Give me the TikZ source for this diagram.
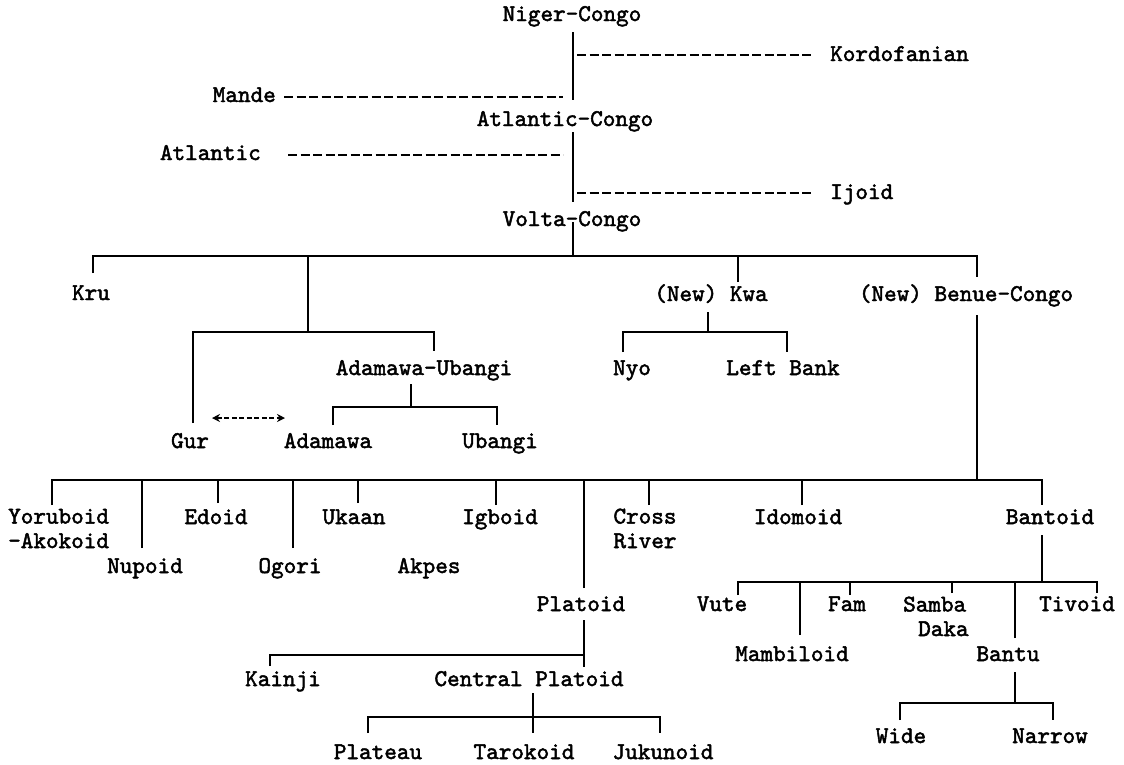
\documentclass[tikz,border=0pt]{standalone}
\usepackage{fontspec}
\newfontfamily\tw{lmmono10-regular}[Extension=.otf, FakeBold=2]
\usetikzlibrary{arrows.meta}
\begin{document}
\begin{tikzpicture}[x=1pt,y=-1pt,
  lbl/.style={font=\tw\fontsize{24}{24.5}\selectfont, inner sep=0pt, anchor=base},
  ln/.style={line width=1.7pt},
  dsh/.style={line width=1.6pt, dash pattern=on 9pt off 3.5pt},
  arr/.style={line width=1.5pt, dash pattern=on 5pt off 2.5pt, {Stealth[length=8pt,width=8pt]}-{Stealth[length=8pt,width=8pt]}}]
\useasboundingbox (0,0) rectangle (1124,764);

% ---- labels ----
\node[lbl] (nc) at (572,21) {Niger-Congo};
\node[lbl,anchor=base west] (kord) at (830,61) {Kordofanian};
\node[lbl,anchor=base east] (mande) at (276,102) {Mande};
\node[lbl] (ac) at (565,126) {Atlantic-Congo};
\node[lbl,anchor=base east] (atl) at (261,160) {Atlantic};
\node[lbl,anchor=base west] (ijoid) at (830,199) {Ijoid};
\node[lbl] (vc) at (572,226) {Volta-Congo};

\node[lbl] (kru) at (91,300) {Kru};
\node[lbl] (kwa) at (711,301) {(New) Kwa};
\node[lbl] (bc) at (966,301) {(New) Benue-Congo};

\node[lbl] (au) at (424,375) {Adamawa-Ubangi};
\node[lbl] (nyo) at (632,375) {Nyo};
\node[lbl] (lb) at (783,375) {Left Bank};

\node[lbl] (gur) at (190,448) {Gur};
\node[lbl] (adam) at (328,448) {Adamawa};
\node[lbl] (ubangi) at (500,448) {Ubangi};

\node[lbl,anchor=base west,align=left] (yor) at (8,548) {Yoruboid\\-Akokoid};
\node[lbl] (edo) at (216,524) {Edoid};
\node[lbl] (uka) at (354,524) {Ukaan};
\node[lbl] (igb) at (500,524) {Igboid};
\node[lbl,align=left] (cro) at (645,548) {Cross\\River};
\node[lbl] (ido) at (798,524) {Idomoid};
\node[lbl] (ban) at (1050,524) {Bantoid};

\node[lbl] (nup) at (145,573) {Nupoid};
\node[lbl] (ogo) at (290,573) {Ogori};
\node[lbl] (akp) at (429,573) {Akpes};

\node[lbl] (pla) at (581,611) {Platoid};
\node[lbl] (vute) at (722,611) {Vute};
\node[lbl] (fam) at (847,611) {Fam};
\node[lbl,anchor=base west,align=left] (sam) at (903,636) {Samba\\\hspace*{15pt}Daka};
\node[lbl] (tiv) at (1077,611) {Tivoid};

\node[lbl] (mam) at (792,661) {Mambiloid};
\node[lbl] (bantu) at (1008,661) {Bantu};

\node[lbl] (kai) at (283,686) {Kainji};
\node[lbl] (cp) at (529,686) {Central Platoid};

\node[lbl] (wide) at (901,743) {Wide};
\node[lbl] (nar) at (1050,743) {Narrow};

\node[lbl] (plat) at (378,759) {Plateau};
\node[lbl] (tar) at (524,759) {Tarokoid};
\node[lbl] (juk) at (663,759) {Jukunoid};

% ---- trunk ----
\coordinate (t1) at (573,32);  \coordinate (t2) at (573,100);
\coordinate (t3) at (573,132); \coordinate (t4) at (573,202);
\coordinate (t5) at (573,222); \coordinate (bvc) at (573,256);
\draw[ln] (t1) -- (t2);
\draw[ln] (t3) -- (t4);
\draw[ln] (t5) -- (bvc);

% dashed side branches
\coordinate (kd1) at (577,55);  \coordinate (kd2) at (813,55);
\coordinate (md1) at (284,97);  \coordinate (md2) at (563,97);
\coordinate (ad1) at (288,155); \coordinate (ad2) at (563,155);
\coordinate (id1) at (577,193); \coordinate (id2) at (813,193);
\draw[dsh] (kd1) -- (kd2);
\draw[dsh] (md1) -- (md2);
\draw[dsh] (ad1) -- (ad2);
\draw[dsh] (id1) -- (id2);

% ---- Volta-Congo bracket ----
\coordinate (kru-t) at (93,273);
\coordinate (g-j) at (308,332);
\coordinate (kwa-t) at (738,282);
\coordinate (bc-t) at (977,277);
\draw[ln] (kru-t) |- (bc-t |- bvc) -- (bc-t);
\draw[ln] (g-j) -- (g-j |- bvc);
\draw[ln] (kwa-t) -- (kwa-t |- bvc);

% Gur / Adamawa-Ubangi
\coordinate (gur-t) at (193,423);
\coordinate (au-t) at (434,351);
\draw[ln] (gur-t) |- (au-t |- g-j) -- (au-t);
\coordinate (au-b) at (411,384); \coordinate (aub) at (411,407);
\coordinate (adam-t) at (333,425); \coordinate (ub-t) at (497,425);
\draw[ln] (au-b) -- (aub);
\draw[ln] (adam-t) |- (ub-t |- aub) -- (ub-t);
\coordinate (ar1) at (212,418); \coordinate (ar2) at (285,418);
\draw[arr] (ar1) -- (ar2);

% Kwa
\coordinate (kwa-b) at (708,312); \coordinate (kwab) at (708,332);
\coordinate (nyo-t) at (623,352); \coordinate (lb-t) at (787,352);
\draw[ln] (kwa-b) -- (kwab);
\draw[ln] (nyo-t) |- (lb-t |- kwab) -- (lb-t);

% Benue-Congo
\coordinate (bc-b) at (977,315); \coordinate (bbc) at (977,480);
\draw[ln] (bc-b) -- (bbc);
\coordinate (yor-t) at (52,505);
\coordinate (nup-t) at (142,548);
\coordinate (edo-t) at (218,503);
\coordinate (ogo-t) at (293,548);
\coordinate (uka-t) at (358,503);
\coordinate (igb-t) at (496,505);
\coordinate (pla-t) at (584,588);
\coordinate (cro-t) at (649,505);
\coordinate (ido-t) at (802,505);
\coordinate (ban-t) at (1042,505);
\draw[ln] (yor-t) |- (ban-t |- bbc) -- (ban-t);
\foreach \c in {nup-t,edo-t,ogo-t,uka-t,igb-t,pla-t,cro-t,ido-t}
  \draw[ln] (\c) -- (\c |- bbc);

% Bantoid
\coordinate (ban-b) at (1042,535); \coordinate (banb) at (1042,582);
\draw[ln] (ban-b) -- (banb);
\coordinate (vute-t) at (738,595);
\coordinate (mam-t) at (800,635);
\coordinate (fam-t) at (850,595);
\coordinate (sam-t) at (952,593);
\coordinate (bantu-t) at (1015,638);
\coordinate (tiv-t) at (1097,593);
\draw[ln] (vute-t) |- (tiv-t |- banb) -- (tiv-t);
\foreach \c in {mam-t,fam-t,sam-t,bantu-t}
  \draw[ln] (\c) -- (\c |- banb);

% Platoid
\coordinate (pla-b) at (584,620); \coordinate (pla-e) at (584,667);
\coordinate (plab) at (584,655); \coordinate (kai-t) at (270,666);
\draw[ln] (pla-b) -- (pla-e);
\draw[ln] (kai-t) |- (plab);

% Central Platoid
\coordinate (cp-b) at (533,693); \coordinate (cpb) at (533,717);
\coordinate (plat-t) at (368,733); \coordinate (tar-t) at (533,733);
\coordinate (juk-t) at (660,733);
\draw[ln] (cp-b) -- (tar-t);
\draw[ln] (plat-t) |- (juk-t |- cpb) -- (juk-t);

% Bantu
\coordinate (bantu-b) at (1015,672); \coordinate (bantub) at (1015,703);
\coordinate (wide-t) at (900,720); \coordinate (nar-t) at (1053,720);
\draw[ln] (bantu-b) -- (bantub);
\draw[ln] (wide-t) |- (nar-t |- bantub) -- (nar-t);
\end{tikzpicture}
\end{document}
